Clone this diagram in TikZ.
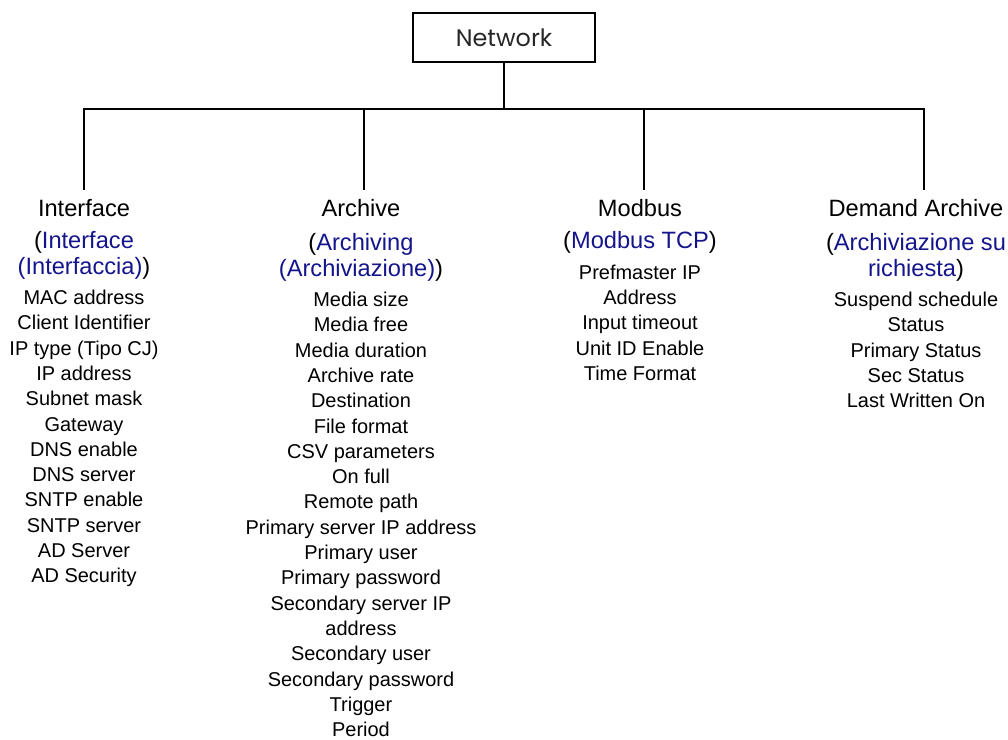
\documentclass[tikz,border=0pt]{standalone}
\usepackage{fontspec}
\setmainfont{Liberation Sans}
\newfontfamily\netfont{Poppins}
\usetikzlibrary{positioning}
\definecolor{subblue}{RGB}{20,20,140}

\begin{document}
\begin{tikzpicture}[x=0.025cm, y=-0.025cm, node distance=7.4pt]
  \tikzstyle{menu}=[draw, line width=1.4pt, minimum width=129pt, minimum height=34.7pt, font=\netfont\fontsize{17}{18}\selectfont, text=black!85]
  \tikzstyle{head}=[inner sep=0pt, font=\fontsize{16.8}{18}\selectfont]
  \tikzstyle{sub}=[inner sep=0pt, align=center, font=\fontsize{16.8}{18}\selectfont]
  \tikzstyle{items}=[inner sep=0pt, align=center, font=\fontsize{14.2}{18}\selectfont]
  \tikzstyle{wire}=[line width=2.1pt]
  \useasboundingbox (0,0) rectangle (1008,740);

  \node[menu] (net) at (504,37.5) {Network};

  \node[head] (iface) at (84,208) {Interface};
  \node[head] (arch) at (361,208) {Archive};
  \node[head] (modb) at (640,208) {Modbus};
  \node[head] (dem) at (916,208) {Demand Archive};

  \node[sub, below=10.3pt of iface] (iface-sub) {(\textcolor{subblue}{Interface}\\\textcolor{subblue}{(Interfaccia)})};
  \node[sub, below=11.7pt of arch] (arch-sub) {(\textcolor{subblue}{Archiving}\\\textcolor{subblue}{(Archiviazione)})};
  \node[sub, below=10.3pt of modb] (modb-sub) {(\textcolor{subblue}{Modbus TCP})};
  \node[sub, below=11.7pt of dem] (dem-sub) {(\textcolor{subblue}{Archiviazione su}\\\textcolor{subblue}{richiesta})};

  \node[items, below=of iface-sub] (iface-list) {MAC address\\Client Identifier\\IP type (Tipo CJ)\\IP address\\Subnet mask\\Gateway\\DNS enable\\DNS server\\SNTP enable\\SNTP server\\AD Server\\AD Security};
  \node[items, below=of arch-sub] (arch-list) {Media size\\Media free\\Media duration\\Archive rate\\Destination\\File format\\CSV parameters\\On full\\Remote path\\Primary server IP address\\Primary user\\Primary password\\Secondary server IP\\address\\Secondary user\\Secondary password\\Trigger\\Period};
  \node[items, below=of modb-sub] (modb-list) {Prefmaster IP\\Address\\Input timeout\\Unit ID Enable\\Time Format};
  \node[items, below=of dem-sub] (dem-list) {Suspend schedule\\Status\\Primary Status\\Sec Status\\Last Written On};

  \coordinate (bar) at (504,109);
  \coordinate (d1) at (84,190);
  \coordinate (d2) at (364,190);
  \coordinate (d3) at (644,190);
  \coordinate (d4) at (924,190);
  \draw[wire] (net) -- (bar);
  \draw[wire] (d1) |- (bar) -| (d4);
  \draw[wire] (d2 |- bar) -- (d2);
  \draw[wire] (d3 |- bar) -- (d3);
\end{tikzpicture}
\end{document}
